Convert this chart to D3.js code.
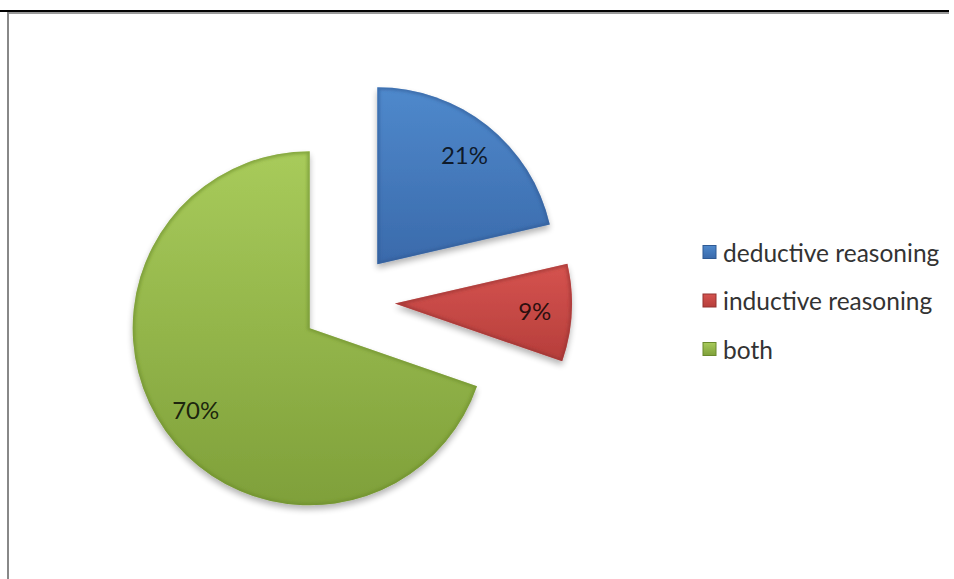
<!DOCTYPE html>
<html><head><meta charset="utf-8">
<script src="https://cdn.jsdelivr.net/npm/d3@7"></script>
<style>html,body{margin:0;padding:0;background:#fff;}svg{display:block;}</style>
</head><body>
<script>
const categories = ["deductive reasoning", "inductive reasoning", "both"];
const values = [21.4, 8.9, 69.7];
const valueLabels = ["21%", "9%", "70%"];
const colorsTop = ["#4f89cc", "#d5534f", "#a8cb5b"];
const colorsBottom = ["#3a6aab", "#b63e3b", "#7fa03a"];
const edgeColors = ["#2f5a94", "#933230", "#6a8a2c"];

const W = 954, H = 579;
const svg = d3.select("body").append("svg").attr("width", W).attr("height", H);
const defs = svg.append("defs");

// frame
svg.append("line").attr("x1", 0).attr("x2", 949).attr("y1", 11).attr("y2", 11).attr("stroke", "#000").attr("stroke-width", 2);
svg.append("line").attr("x1", 7).attr("x2", 949).attr("y1", 13).attr("y2", 13).attr("stroke", "#999").attr("stroke-width", 2);
svg.append("line").attr("x1", 8).attr("x2", 8).attr("y1", 12).attr("y2", H).attr("stroke", "#888").attr("stroke-width", 2);

const cx = 348, cy = 301, R = 177, explode = 47;

const shadow = defs.append("filter").attr("id", "shadow").attr("x", "-20%").attr("y", "-20%").attr("width", "140%").attr("height", "140%");
shadow.append("feGaussianBlur").attr("in", "SourceAlpha").attr("stdDeviation", 3).attr("result", "b");
shadow.append("feOffset").attr("in", "b").attr("dy", 4).attr("result", "o");
shadow.append("feComponentTransfer").attr("in", "o").attr("result", "s")
  .append("feFuncA").attr("type", "linear").attr("slope", 0.3);
const m = shadow.append("feMerge");
m.append("feMergeNode").attr("in", "s");
m.append("feMergeNode").attr("in", "SourceGraphic");

const bevel = defs.append("filter").attr("id", "bevel");
bevel.append("feGaussianBlur").attr("stdDeviation", 1.5);

categories.forEach((c, i) => {
  const g = defs.append("linearGradient").attr("id", "grad" + i).attr("x1", 0).attr("y1", 0).attr("x2", 0).attr("y2", 1);
  g.append("stop").attr("offset", "0%").attr("stop-color", colorsTop[i]);
  g.append("stop").attr("offset", "100%").attr("stop-color", colorsBottom[i]);
});

const pie = d3.pie().sort(null).value(d => d)(values);
const arc = d3.arc().innerRadius(0).outerRadius(R);
const labelArc = d3.arc().innerRadius(140).outerRadius(140);

const slices = svg.append("g").attr("transform", `translate(${cx},${cy})`);
pie.forEach((p, i) => {
  const mid = (p.startAngle + p.endAngle) / 2;
  const dx = explode * Math.sin(mid), dy = -explode * Math.cos(mid);
  const g = slices.append("g").attr("transform", `translate(${dx},${dy})`);
  const clipId = "clip" + i;
  defs.append("clipPath").attr("id", clipId).append("path").attr("d", arc(p));
  g.append("path").attr("d", arc(p)).attr("fill", `url(#grad${i})`).attr("filter", "url(#shadow)");
  g.append("path").attr("d", arc(p)).attr("fill", "none").attr("stroke", edgeColors[i])
    .attr("stroke-width", 5).attr("stroke-opacity", 0.55).attr("clip-path", `url(#${clipId})`).attr("filter", "url(#bevel)");
  const [lx, ly] = labelArc.centroid(p);
  g.append("text").attr("x", lx).attr("y", ly).attr("text-anchor", "middle").attr("dominant-baseline", "central")
    .attr("font-family", "Lato, 'Open Sans', sans-serif").attr("font-size", 24)
    .attr("fill", "#000").attr("fill-opacity", 0.8).text(valueLabels[i]);
});

// legend
const legY = d3.scalePoint().domain(categories).range([252, 349]);
const leg = svg.append("g");
categories.forEach((c, i) => {
  const y = legY(c);
  leg.append("rect").attr("x", 703).attr("y", y - 6.5).attr("width", 13).attr("height", 13)
    .attr("fill", `url(#grad${i})`).attr("stroke", edgeColors[i]).attr("stroke-width", 1);
  leg.append("text").attr("x", 723).attr("y", y).attr("dominant-baseline", "central")
    .attr("font-family", "Lato, 'Open Sans', sans-serif").attr("font-size", 24.5)
    .attr("fill", "#333").text(c);
});
</script>
</body></html>
